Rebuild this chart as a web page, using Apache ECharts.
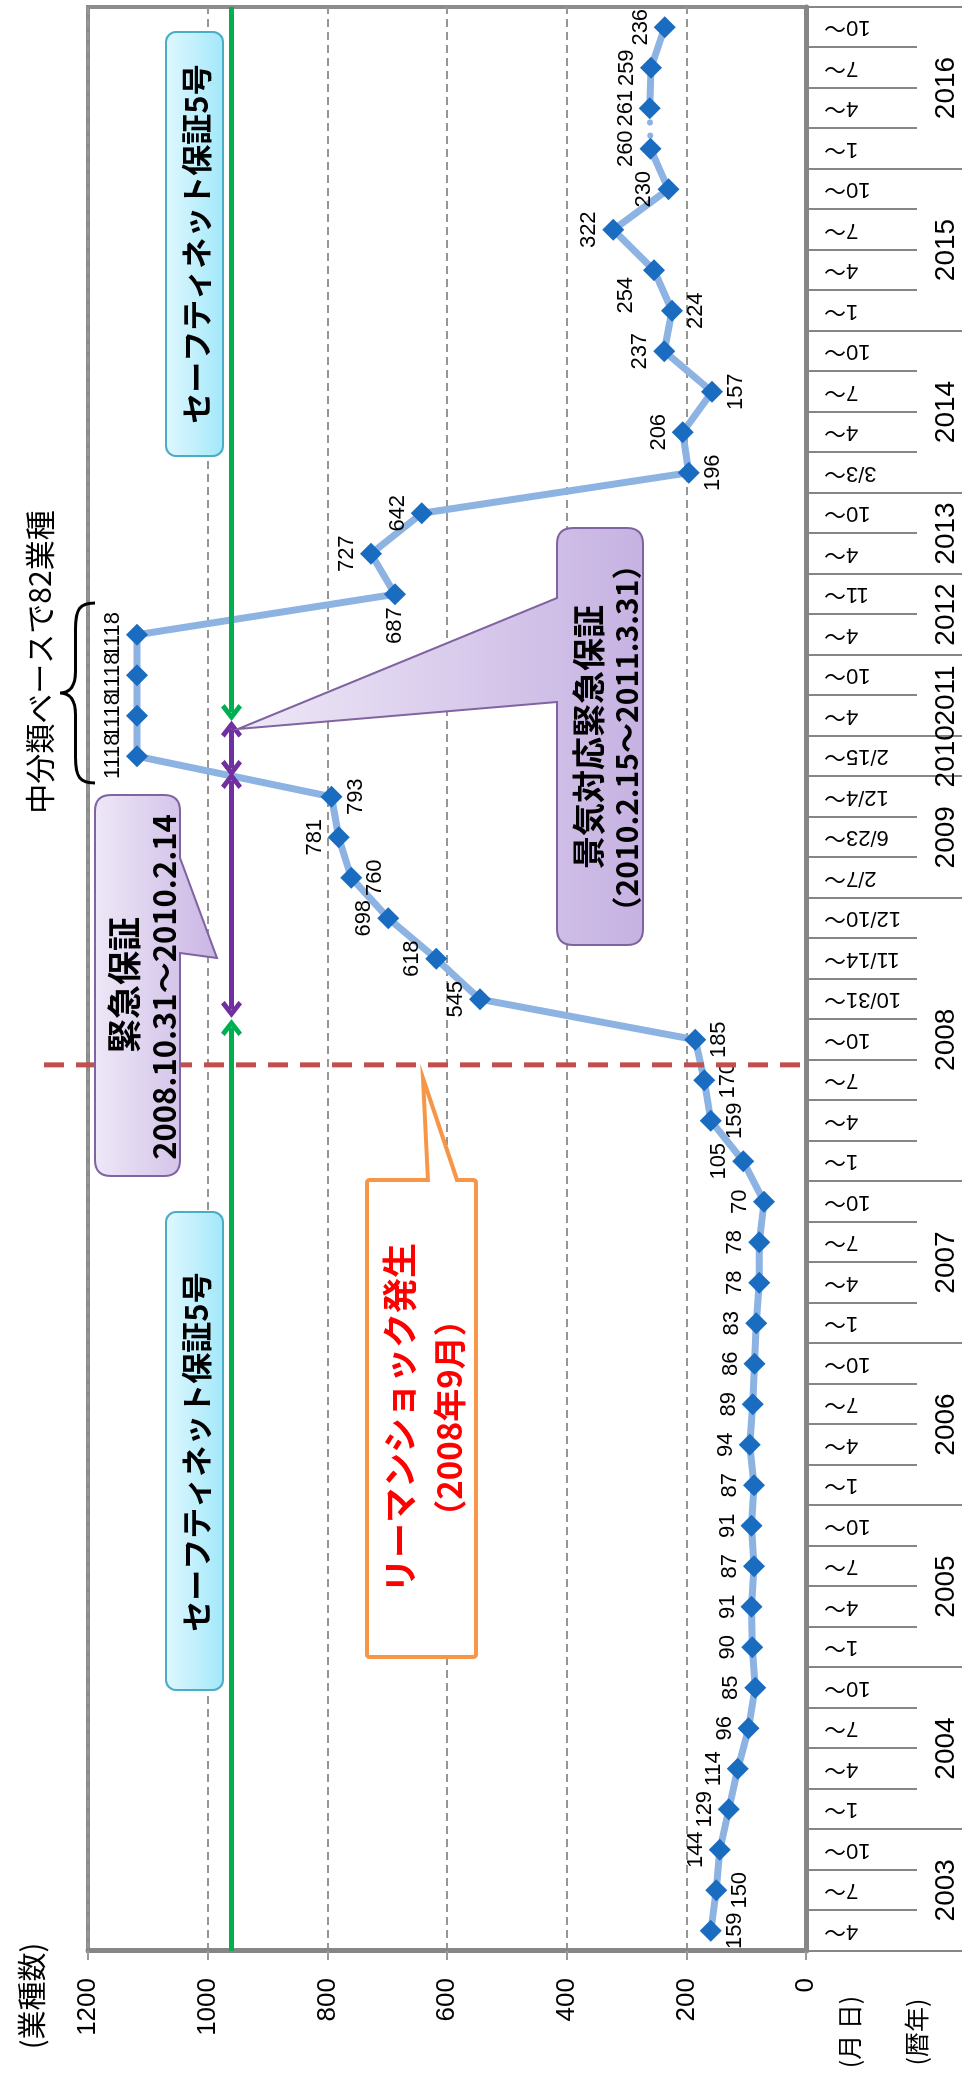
<!doctype html>
<html lang="ja">
<head>
<meta charset="utf-8"/>
<title>業種数の推移</title>
<script src="https://cdn.jsdelivr.net/npm/echarts@6/dist/echarts.min.js"></script>
<style>
    html, body { margin: 0; padding: 0; background: #fff; overflow: hidden; width: 962px; height: 2090px; }
    /* the chart is laid out landscape and turned a quarter turn to stand upright */
    #chart { position: absolute; left: 0; top: 0; width: 2090px; height: 962px;
             transform-origin: 0 0; transform: translate(0, 2090px) rotate(-90deg); }
</style>
</head>
<body>
<div id="chart"></div>
<script>
    // ---- data ----
    const categories = [
        '4～', '7～', '10～',
        '1～', '4～', '7～', '10～',
        '1～', '4～', '7～', '10～',
        '1～', '4～', '7～', '10～',
        '1～', '4～', '7～', '10～',
        '1～', '4～', '7～', '10～', '10/31～', '11/14～', '12/10～',
        '2/7～', '6/23～', '12/4～',
        '2/15～',
        '4～', '10～',
        '4～', '11～',
        '4～', '10～',
        '3/3～', '4～', '7～', '10～',
        '1～', '4～', '7～', '10～',
        '1～', '4～', '7～', '10～'
    ];
    const yearNames = ['2003', '2004', '2005', '2006', '2007', '2008', '2009',
        '2010', '2011', '2012', '2013', '2014', '2015', '2016'];
    const yearSizes = [3, 4, 4, 4, 4, 7, 3, 1, 2, 2, 2, 4, 4, 4];
    const counts = [
        159, 150, 144,
        129, 114, 96, 85,
        90, 91, 87, 91,
        87, 94, 89, 86,
        83, 78, 78, 70,
        105, 159, 170, 185, 545, 618, 698,
        760, 781, 793,
        1118,
        1118, 1118,
        1118, 687,
        727, 642,
        196, 206, 157, 237,
        224, 254, 322, 230,
        260, 261, 259, 236
    ];
    // which side of the point each value label sits on
    const labelPos = [
        'bottom', 'bottom', 'top',
        'top', 'top', 'top', 'top',
        'top', 'top', 'top', 'top',
        'top', 'top', 'top', 'top',
        'top', 'top', 'top', 'top',
        'top', 'bottom', 'bottom', 'bottom', 'top', 'top', 'top',
        'bottom', 'top', 'bottom',
        'top',
        'top', 'top',
        'top', 'left',
        'top', 'top',
        'bottom', 'top', 'bottom', 'top',
        'bottom', 'top', 'top', 'top',
        'top', 'top', 'top', 'top'
    ];
    const gapAfter = 44; // the 260 -> 261 step is drawn dotted

    // guarantee periods, in category units along the time axis
    const guaranteeLevel = 960;
    const lehmanPos = 21.88;

    // year boundaries and centres from the year sizes
    const yearBounds = [0];
    yearSizes.forEach(function (n) { yearBounds.push(yearBounds[yearBounds.length - 1] + n); });
    const yearCenters = yearSizes.map(function (n, i) { return yearBounds[i] + n / 2; });

    const narrow = "'Liberation Sans Narrow', 'Liberation Sans', sans-serif";
    const jp = "'Noto Sans CJK JP', sans-serif";

    function pointItem(i) {
        return {
            value: counts[i],
            label: { position: labelPos[i], offset: i === 41 ? [-25, -4] : [0, 0] }
        };
    }
    const mainData = counts.map(function (v, i) { return i <= gapAfter ? pointItem(i) : '-'; });
    const tailData = counts.map(function (v, i) { return i > gapAfter ? pointItem(i) : '-'; });
    const gapData = counts.map(function (v, i) { return (i === gapAfter || i === gapAfter + 1) ? v : '-'; });

    const arrow = 'path://M10,0 L20,12 L16.5,15 L10,7 L3.5,15 L0,12 Z';
    function seg(from, to, color, startArrow, endArrow) {
        return [
            { coord: [from, guaranteeLevel], symbol: startArrow ? arrow : 'none', symbolSize: [21, 17],
              lineStyle: { color: color, width: 5, type: 'solid' } },
            { coord: [to, guaranteeLevel], symbol: endArrow ? arrow : 'none', symbolSize: [21, 17] }
        ];
    }

    // callout box with a pointer on one side
    const Callout = echarts.graphic.extendShape({
        shape: { x: 0, y: 0, w: 0, h: 0, r: 0, side: 'bottom', a: 0, b: 0, tx: 0, ty: 0 },
        buildPath: function (ctx, s) {
            const x = s.x, y = s.y, w = s.w, h = s.h, r = s.r;
            ctx.moveTo(x + r, y);
            if (s.side === 'top') { ctx.lineTo(s.a, y); ctx.lineTo(s.tx, s.ty); ctx.lineTo(s.b, y); }
            ctx.lineTo(x + w - r, y);
            ctx.quadraticCurveTo(x + w, y, x + w, y + r);
            if (s.side === 'right') { ctx.lineTo(x + w, s.a); ctx.lineTo(s.tx, s.ty); ctx.lineTo(x + w, s.b); }
            ctx.lineTo(x + w, y + h - r);
            ctx.quadraticCurveTo(x + w, y + h, x + w - r, y + h);
            if (s.side === 'bottom') { ctx.lineTo(s.b, y + h); ctx.lineTo(s.tx, s.ty); ctx.lineTo(s.a, y + h); }
            ctx.lineTo(x + r, y + h);
            ctx.quadraticCurveTo(x, y + h, x, y + h - r);
            ctx.lineTo(x, y + r);
            ctx.quadraticCurveTo(x, y, x + r, y);
            ctx.closePath();
        }
    });
    echarts.graphic.registerShape('callout', Callout);

    // curly brace, point upward
    const Brace = echarts.graphic.extendShape({
        shape: { x1: 0, x2: 0, mid: 0, top: 0, bottom: 0 },
        buildPath: function (ctx, s) {
            const m = (s.top + s.bottom) / 2 - 2;
            ctx.moveTo(s.x1, s.bottom);
            ctx.bezierCurveTo(s.x1, m + 4, s.x1 + 6, m, s.x1 + 26, m);
            ctx.lineTo(s.mid - 22, m);
            ctx.bezierCurveTo(s.mid - 6, m, s.mid, m - 6, s.mid, s.top);
            ctx.bezierCurveTo(s.mid, m - 6, s.mid + 6, m, s.mid + 22, m);
            ctx.lineTo(s.x2 - 26, m);
            ctx.bezierCurveTo(s.x2 - 6, m, s.x2, m + 4, s.x2, s.bottom);
        }
    });
    echarts.graphic.registerShape('brace', Brace);

    function grad(c1, c2) {
        return new echarts.graphic.LinearGradient(0, 0, 0, 1, [
            { offset: 0, color: c1 }, { offset: 1, color: c2 }
        ]);
    }
    function txt(x, y, text, font, color) {
        return {
            type: 'text', x: x, y: y, z: 110,
            style: { text: text, font: font, fill: color || '#000',
                     align: 'center', verticalAlign: 'middle',
                     textAlign: 'center', textVerticalAlign: 'middle' }
        };
    }

    const graphics = [
        // セーフティネット保証5号 (right)
        { type: 'rect', z: 100, shape: { x: 1634, y: 166, width: 424, height: 57, r: 10 },
          style: { fill: grad('#E0F8FE', '#A2E8FA'), stroke: '#4BACC6', lineWidth: 2 } },
        txt(1846, 196, 'セーフティネット保証5号', 'bold 31px ' + jp),
        // セーフティネット保証5号 (left)
        { type: 'rect', z: 100, shape: { x: 400, y: 166, width: 478, height: 57, r: 10 },
          style: { fill: grad('#E0F8FE', '#A2E8FA'), stroke: '#4BACC6', lineWidth: 2 } },
        txt(638, 196, 'セーフティネット保証5号', 'bold 31px ' + jp),
        // 緊急保証
        { type: 'callout', z: 100,
          shape: { x: 914, y: 95, w: 381, h: 85, r: 16, side: 'bottom', a: 1137, b: 1232, tx: 1132, ty: 217 },
          style: { fill: grad('#EEE8F7', '#C9B5E4'), stroke: '#8064A2', lineWidth: 2 } },
        txt(1105, 124, '緊急保証', 'bold 34px ' + jp),
        txt(1103, 164, '2008.10.31～2010.2.14', 'bold 31px ' + jp),
        // 景気対応緊急保証
        { type: 'callout', z: 100,
          shape: { x: 1145, y: 557, w: 417, h: 86, r: 16, side: 'top', a: 1388, b: 1492, tx: 1361, ty: 238 },
          style: { fill: grad('#EFE9F7', '#C6B2E2'), stroke: '#8064A2', lineWidth: 2 } },
        txt(1353, 588, '景気対応緊急保証', 'bold 33px ' + jp),
        txt(1352, 627, '（2010.2.15～2011.3.31）', 'bold 30px ' + jp),
        // リーマンショック発生
        { type: 'callout', z: 100,
          shape: { x: 433, y: 367, w: 477, h: 109, r: 3, side: 'right', a: 428, b: 457, tx: 1012, ty: 423 },
          style: { fill: '#fff', stroke: '#F79646', lineWidth: 4 } },
        txt(672, 400, 'リーマンショック発生', 'bold 35px ' + jp, '#FF0000'),
        txt(672, 449, '（2008年9月）', 'bold 33px ' + jp, '#FF0000'),
        // brace and note over the 1118 points
        { type: 'brace', z: 100, shape: { x1: 1307, x2: 1487, mid: 1397, top: 60, bottom: 95 },
          style: { fill: 'none', stroke: '#000', lineWidth: 3 } },
        txt(1428, 40, '中分類ベースで82業種', '30px ' + jp),
        // axis captions
        txt(94, 32, '(業種数)', '29px ' + jp),
        txt(58, 849, '(月 日)', '25px ' + jp),
        txt(58, 916, '(暦年)', '25px ' + jp)
    ];

    const chart = echarts.init(document.getElementById('chart'));
    const option = {
        animation: false,
        backgroundColor: '#fff',
        grid: { left: 139, right: 7, top: 88, bottom: 156, show: true, borderColor: '#8c8c8c', borderWidth: 4 },
        xAxis: [
            {
                type: 'category',
                data: categories,
                position: 'bottom',
                axisLine: { lineStyle: { color: '#868686', width: 5 } },
                axisTick: { show: true, interval: 0, length: 111, lineStyle: { color: '#868686', width: 2 } },
                axisLabel: { interval: 0, rotate: 90, margin: 18, fontSize: 22, color: '#000',
                             fontFamily: "'Liberation Sans', 'Noto Sans CJK JP', sans-serif" },
                splitLine: { show: false }
            },
            {
                type: 'value',
                min: 0,
                max: 48,
                position: 'bottom',
                axisLine: { show: false },
                splitLine: { show: false },
                axisTick: { show: true, customValues: yearBounds, length: 156, lineStyle: { color: '#868686', width: 2 } },
                axisLabel: {
                    customValues: yearCenters,
                    margin: 126,
                    fontSize: 28,
                    fontFamily: narrow,
                    color: '#000',
                    formatter: function (v) {
                        const k = yearCenters.indexOf(v);
                        return k >= 0 ? yearNames[k] : '';
                    }
                }
            }
        ],
        yAxis: {
            type: 'value',
            min: 0,
            max: 1200,
            interval: 200,
            axisLine: { show: true, lineStyle: { color: '#868686', width: 5 } },
            axisTick: { show: true, length: 9, lineStyle: { color: '#9a9a9a', width: 2 } },
            axisLabel: { margin: 27, fontSize: 26, color: '#000', fontFamily: "'Liberation Sans', sans-serif",
                         formatter: function (v) { return String(v); } },
            splitLine: { lineStyle: { color: '#969696', width: 2, type: [8, 5] } }
        },
        series: [
            {
                name: 'gap',
                type: 'line',
                data: gapData,
                symbol: 'none',
                silent: true,
                z: 2,
                lineStyle: { color: '#8DB3E2', width: 6, type: [0.1, 13], cap: 'round' }
            },
            {
                name: '業種数',
                type: 'line',
                data: mainData,
                symbol: 'diamond',
                symbolSize: 22,
                z: 3,
                lineStyle: { color: '#8DB3E2', width: 7 },
                itemStyle: { color: '#1A6CC0' },
                label: { show: true, color: '#000', fontSize: 22, fontFamily: narrow, distance: 2 }
            },
            {
                name: '業種数2016',
                type: 'line',
                data: tailData,
                symbol: 'diamond',
                symbolSize: 22,
                z: 3,
                lineStyle: { color: '#8DB3E2', width: 7 },
                itemStyle: { color: '#1A6CC0' },
                label: { show: true, color: '#000', fontSize: 22, fontFamily: narrow, distance: 2 }
            },
            {
                name: 'periods',
                type: 'line',
                xAxisIndex: 1,
                data: [],
                markLine: {
                    silent: true,
                    animation: false,
                    label: { show: false },
                    symbol: ['none', 'none'],
                    z: 6,
                    data: [
                        seg(0, 22.8, '#00B050', false, true),
                        seg(23.25, 28.9, '#7030A0', true, true),
                        seg(29.2, 30.17, '#7030A0', true, true),
                        seg(30.58, 48, '#00B050', true, false)
                    ]
                }
            }
        ],
        graphic: graphics
    };
    chart.setOption(option);

    // the Lehman line runs past the top of the value axis, so place it from the axis scales
    const lx = chart.convertToPixel({ xAxisIndex: 1 }, lehmanPos);
    const ly1 = chart.convertToPixel({ yAxisIndex: 0 }, 10);
    const ly2 = chart.convertToPixel({ yAxisIndex: 0 }, 1277);
    chart.setOption({
        graphic: graphics.concat([{
            type: 'line', z: 50,
            shape: { x1: lx, y1: ly1, x2: lx, y2: ly2 },
            style: { stroke: '#C0504D', lineWidth: 5, lineDash: [20, 12] }
        }])
    });
</script>
</body>
</html>
